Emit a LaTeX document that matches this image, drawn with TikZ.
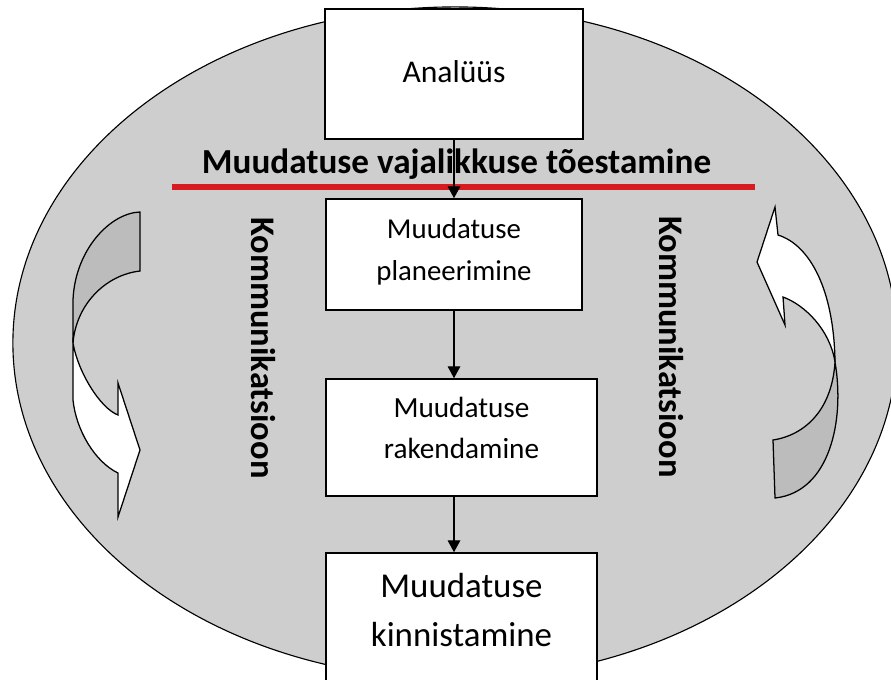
\documentclass[tikz,border=0pt]{standalone}
\usepackage{fontspec}
\setmainfont{Carlito}
\usetikzlibrary{arrows.meta, calc}

\definecolor{ringgray}{RGB}{206,206,206}
\definecolor{tailgray}{RGB}{188,188,188}
\definecolor{markred}{RGB}{214,28,32}

\begin{document}
\begin{tikzpicture}[x=0.025cm, y=-0.025cm]
    \tikzset{
        stage/.style={draw=black, line width=1.1pt, fill=white, inner sep=0pt},
        stage text/.style={align=center, inner sep=0pt},
        flow/.style={-{Triangle[length=8.5pt, width=9pt]}, line width=0.9pt},
        side text/.style={font=\fontsize{24.5}{28}\selectfont\bfseries, rotate=-90},
        twist back/.style={draw=black, line width=0.9pt, fill=tailgray},
        twist front/.style={draw=black, line width=0.9pt, fill=white}
    }
    \useasboundingbox (0,0) rectangle (891,679);
    \clip (0,0) rectangle (891,679);
    \fill[white] (0,0) rectangle (891,679);

    % --- the big ring
    \draw[fill=ringgray, line width=0.8pt] (455,343) ellipse [x radius=11.05cm, y radius=8.4cm];

    % --- stages
    \node[stage, minimum width=6.45cm, minimum height=3.25cm] (analysis) at (454,74) {};
    \node[stage, minimum width=6.4cm, minimum height=2.775cm] (planning) at (454,254.5) {};
    \node[stage, minimum width=6.775cm, minimum height=2.925cm] (rollout) at (461.5,437.5) {};
    \node[stage, minimum width=6.775cm, minimum height=3.675cm] (locking) at (461.5,626.5) {};

    \node[stage text, font=\fontsize{22.5}{26}\selectfont] (analysis label) at (454,71.5) {Analüüs};
    \node[stage text, font=\fontsize{20.5}{29.8}\selectfont] (planning label) at (454,252) {Muudatuse\\planeerimine};
    \node[stage text, font=\fontsize{20.8}{29}\selectfont] (rollout label) at (461.5,427.7) {Muudatuse\\rakendamine};
    \node[stage text, font=\fontsize{24.8}{35.4}\selectfont] (locking label) at (461.5,610) {Muudatuse\\kinnistamine};

    % --- need line
    \node[font=\fontsize{25}{29}\selectfont\bfseries, anchor=base, inner sep=0pt] (need) at (456.5,173) {Muudatuse vajalikkuse tõestamine};
    \draw[markred, line width=4.5pt] (172,187) -- (755,187);

    \draw[flow] (analysis) -- (planning);
    \draw[flow] (planning.south) -- (planning.south |- rollout.north);
    \draw[flow] (rollout.south -| planning.south) -- (locking.north -| planning.south);

    % --- twisted arrows
    \draw[twist back] (140,212) .. controls (110,213) and (75,250) .. (73,300) -- (73,343)
        .. controls (76,305) and (105,275) .. (140,271) -- cycle;
    \draw[twist front] (73,343) -- (73,400) .. controls (76,430) and (95,462) .. (118,473)
        -- (118,517) -- (140,450) -- (118,383) -- (118,415)
        .. controls (100,408) and (78,372) .. (73,343) -- cycle;

    \draw[twist front] (835,362) .. controls (834,290) and (810,245) .. (778,235)
        -- (775,207) -- (757,262) -- (785,325) -- (783,297)
        .. controls (805,305) and (830,330) .. (835,362) -- cycle;
    \draw[twist back] (835,362) .. controls (845,420) and (830,492) .. (775,498) -- (773,440)
        .. controls (805,435) and (832,410) .. (835,362) -- cycle;

    \node[side text] (talk left) at (263,348) {Kommunikatsioon};
    \node[side text] (talk right) at (671,347) {Kommunikatsioon};
\end{tikzpicture}
\end{document}
